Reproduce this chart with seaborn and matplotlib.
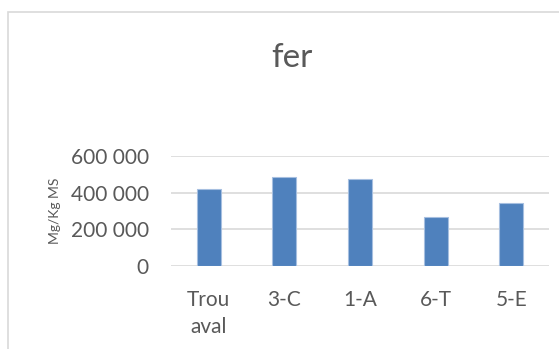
import matplotlib
matplotlib.use("Agg")
import matplotlib.pyplot as plt
from matplotlib.patches import Rectangle
from matplotlib.ticker import FuncFormatter
import pandas as pd
import seaborn as sns

# Iron content per sampling point
categories = ["Trou\naval", "3-C", "1-A", "6-T", "5-E"]
values = [418000, 484000, 474000, 265000, 345000]
y_ticks = [0, 200000, 400000, 600000]

title = "fer"
y_label = "Mg/Kg MS"

sns.set_theme(style="white")
plt.rcParams["font.family"] = ["Lato", "DejaVu Sans"]

text_color = "#595959"
grid_color = "#d9d9d9"
bar_color = "#4f81bd"

df = pd.DataFrame({"site": categories, "value": values})

fig = plt.figure(figsize=(5.59, 3.49), dpi=100)
fig.patch.set_facecolor("white")

# chart frame (left and top edges visible)
fig.patches.append(Rectangle((8 / 559, -0.1), 1.2, 1 - 12 / 349 + 0.1,
                             transform=fig.transFigure, fill=False,
                             edgecolor="#d9d9d9", linewidth=1.2))

ax = fig.add_axes([171 / 559, 1 - 266 / 349, (549 - 171) / 559, (266 - 156) / 349])
ax.set_facecolor("none")

sns.barplot(data=df, x="site", y="value", color=bar_color, width=0.32,
            edgecolor="#a6bfe0", linewidth=0.8, saturation=1, ax=ax, zorder=3)

ax.set_ylim(0, 600000)
ax.set_yticks(y_ticks)
ax.yaxis.set_major_formatter(FuncFormatter(lambda v, _: f"{int(v):,}".replace(",", " ")))
ax.grid(axis="y", color=grid_color, linewidth=1.2, zorder=0)
ax.set_axisbelow(True)
for s in ax.spines.values():
    s.set_visible(False)

ax.tick_params(axis="y", length=0, pad=16, labelsize=15, labelcolor=text_color)
ax.tick_params(axis="x", length=0, pad=17, labelsize=15, labelcolor=text_color)
for lab in ax.get_xticklabels():
    lab.set_linespacing(1.45)
    lab.set_verticalalignment("top")

ax.set_xlabel("")
ax.set_ylabel(y_label, fontsize=10, color=text_color)
ax.yaxis.set_label_coords((61 - 171) / (549 - 171), 0.5)

fig.text(292 / 559, 1 - 67 / 349, title, ha="center", va="baseline",
         fontsize=24, color=text_color)

fig.savefig("out.png", dpi=100, facecolor="white")
